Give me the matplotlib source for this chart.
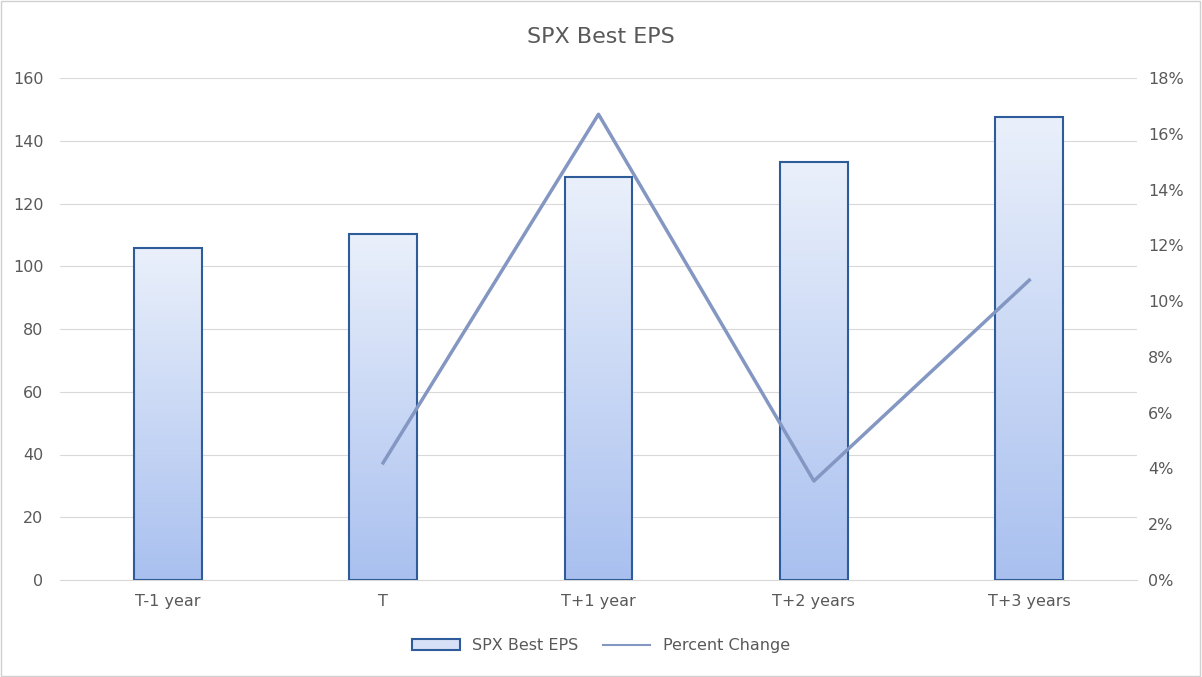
import matplotlib
matplotlib.use("Agg")
import matplotlib.pyplot as plt
import numpy as np
from matplotlib.patches import Rectangle
from matplotlib.lines import Line2D

categories = ["T-1 year", "T", "T+1 year", "T+2 years", "T+3 years"]
eps = [105.8, 110.3, 128.4, 133.2, 147.6]
pct_cats = [1, 2, 3, 4]
pct = [4.2, 16.7, 3.55, 10.75]

fig = plt.figure(figsize=(12.02, 6.77), dpi=100)
fig.patch.set_facecolor("white")
fig.add_artist(Rectangle((0.0005, 0.001), 0.998, 0.997, transform=fig.transFigure,
                         fill=False, edgecolor="#d0d0d0", lw=1))
ax = fig.add_axes([60/1202, 97/677, 1077/1202, 502/677])
ax2 = ax.twinx()

x = np.arange(len(categories))
w = 0.315
grad = np.linspace(0, 1, 256).reshape(-1, 1)
from matplotlib.colors import LinearSegmentedColormap
cmap = LinearSegmentedColormap.from_list("g", ["#a9c0ef", "#eaf0fb"])
for xi, v in zip(x, eps):
    im = ax.imshow(grad, extent=[xi - w/2, xi + w/2, 0, v], origin="lower",
                   cmap=cmap, aspect="auto", zorder=2)
    r = Rectangle((xi - w/2, 0), w, v, fill=False, edgecolor="#2e5c9a", lw=1.5, zorder=3)
    ax.add_patch(r)
    im.set_clip_path(r)

ax.set_xlim(-0.5, 4.5)
ax.set_ylim(0, 160)
ax.set_yticks(range(0, 161, 20))
ax.set_xticks(x)
ax.set_xticklabels(categories)
ax.grid(axis="y", color="#d9d9d9", lw=0.8, zorder=0)
ax.set_axisbelow(True)

ax2.plot(pct_cats, pct, color="#8397c2", lw=2.5, zorder=4)
ax2.set_ylim(0, 18)
ax2.set_yticks(range(0, 19, 2))
ax2.set_yticklabels([f"{v}%" for v in range(0, 19, 2)])

for a in (ax, ax2):
    for s in a.spines.values():
        s.set_visible(False)
    a.tick_params(length=0, colors="#595959", labelsize=11.5)
ax.spines["bottom"].set_visible(True)
ax.spines["bottom"].set_color("#d9d9d9")
ax.tick_params(axis="x", pad=10)
ax.tick_params(axis="y", pad=12)
ax2.tick_params(axis="y", pad=8)

fig.text(0.5, 0.945, "SPX Best EPS", ha="center", va="center", fontsize=16, color="#595959")

h1 = Rectangle((0, 0), 1, 1, facecolor="#d6e1f7", edgecolor="#2e5c9a", lw=1.5)
h2 = Line2D([0], [0], color="#8397c2", lw=1.5)
fig.legend([h1, h2], ["SPX Best EPS", "Percent Change"], loc="center",
           bbox_to_anchor=(0.5, 0.046), ncol=2, frameon=False, fontsize=11.5,
           labelcolor="#595959", handlelength=3, columnspacing=1.5)
fig.savefig("out.png", dpi=100)
